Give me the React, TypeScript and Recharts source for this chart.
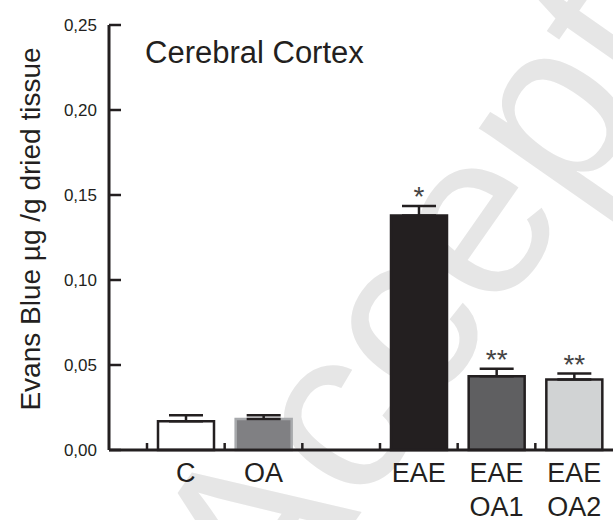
import React from "react";
import { BarChart, Bar, XAxis, YAxis, ErrorBar, Cell, LabelList, Customized } from "recharts";

const categories = ["C", "OA", "", "EAE", "EAE\nOA1", "EAE\nOA2"];
const means = [0.0169, 0.0183, null, 0.138, 0.0434, 0.0414];
const sems = [0.0036, 0.0022, null, 0.0055, 0.0044, 0.0036];
const marks = ["", "", "", "*", "**", "**"];
const yTicks = [0, 0.05, 0.1, 0.15, 0.2, 0.25];
const yTickLabels = ["0,00", "0,05", "0,10", "0,15", "0,20", "0,25"];
const fills = ["#ffffff", "#808083", "#ffffff", "#231f20", "#5f5f61", "#d1d3d4"];
const strokes = ["#231f20", "#a7a9ac", "#ffffff", "#231f20", "#231f20", "#231f20"];

const title = "Cerebral Cortex";
const yLabel = "Evans Blue µg /g dried tissue";
const watermark = "Accepted";

const FONT = "'Liberation Sans', Arial, Helvetica, sans-serif";
const INK = "#231f20";

const data = categories.map((c, i) => ({
  name: c,
  value: means[i],
  err: sems[i] == null ? undefined : [0, sems[i] as number],
  idx: i,
}));

const XTick = (props: any) => {
  const { x, payload } = props;
  const off = payload && typeof payload.offset === "number" && payload.offset > 0 ? payload.offset : 38.8;
  const lines = String(payload.value).split("\n");
  const axisY = 450;
  return (
    <g>
      <line x1={x - off} x2={x - off} y1={axisY} y2={axisY - 7} stroke={INK} strokeWidth={2.5} />
      {lines.map((l, i) => (
        <text key={i} x={x} y={axisY + 32 + i * 34} textAnchor="middle" fontFamily={FONT} fontSize={27} fill={INK}>
          {l}
        </text>
      ))}
    </g>
  );
};

const YTick = (props: any) => {
  const { y, payload } = props;
  const ax = 109;
  const lbl = yTickLabels[yTicks.indexOf(payload.value)] ?? String(payload.value);
  return (
    <g>
      <line x1={ax} x2={ax + 12} y1={y} y2={y} stroke={INK} strokeWidth={2.5} />
      <text x={97} y={y} dy="0.36em" textAnchor="end" fontFamily={FONT} fontSize={17} fill={INK}>
        {lbl}
      </text>
    </g>
  );
};

const MarkLabel = (props: any) => {
  const { x, y, width, height, value } = props;
  const i = Number(value);
  const m = marks[i];
  const v = means[i];
  const s = sems[i];
  if (!m || v == null || s == null) return null;
  const ppu = Number(height) / v;
  const yTop = Number(y) - s * ppu;
  return (
    <text x={Number(x) + Number(width) / 2} y={yTop + 0} textAnchor="middle" fontFamily={FONT} fontSize={28} fill="#444">
      {m}
    </text>
  );
};

const Extras = () => (
  <g>
    <text x={145} y={63} fontFamily={FONT} fontSize={31} fill={INK}>
      {title}
    </text>
    <text
      x={0}
      y={0}
      transform="translate(40, 229) rotate(-90)"
      textAnchor="middle"
      fontFamily={FONT}
      fontSize={28}
      fill={INK}
    >
      {yLabel}
    </text>
  </g>
);

export default function App() {
  return (
    <div style={{ position: "absolute", left: 0, top: 0, width: 613, height: 520, background: "#fff" }}>
      <svg width={613} height={520} style={{ position: "absolute", left: 0, top: 0 }}>
        <text
          x={0}
          y={0}
          transform="translate(272, 640) rotate(-55)"
          fontFamily={FONT}
          fontSize={235}
          fill="#e6e6e6"
        >
          {watermark}
        </text>
      </svg>
      <div style={{ position: "absolute", left: 0, top: 0 }}>
        <BarChart width={613} height={520} data={data} margin={{ top: 25, right: 0, left: 0, bottom: 0 }} barSize={56}>
          <XAxis
            dataKey="name"
            height={70}
            padding={{ left: 38, right: 0 }}
            axisLine={{ stroke: INK, strokeWidth: 3 }}
            tickLine={false}
            tickSize={0}
            tickMargin={0}
            tick={<XTick />}
            interval={0}
          />
          <YAxis
            width={109}
            domain={[0, 0.25]}
            ticks={yTicks}
            axisLine={{ stroke: INK, strokeWidth: 3 }}
            tickLine={false}
            tickSize={0}
            tickMargin={0}
            tick={<YTick />}
            interval={0}
          />
          <Bar dataKey="value" isAnimationActive={false} strokeWidth={2.5}>
            {data.map((d, i) => (
              <Cell key={i} fill={fills[i]} stroke={strokes[i]} />
            ))}
            <ErrorBar dataKey="err" width={17} strokeWidth={2.5} stroke={INK} direction="y" />
            <LabelList dataKey="idx" content={<MarkLabel />} />
          </Bar>
          <Customized component={<Extras />} />
        </BarChart>
      </div>
    </div>
  );
}
